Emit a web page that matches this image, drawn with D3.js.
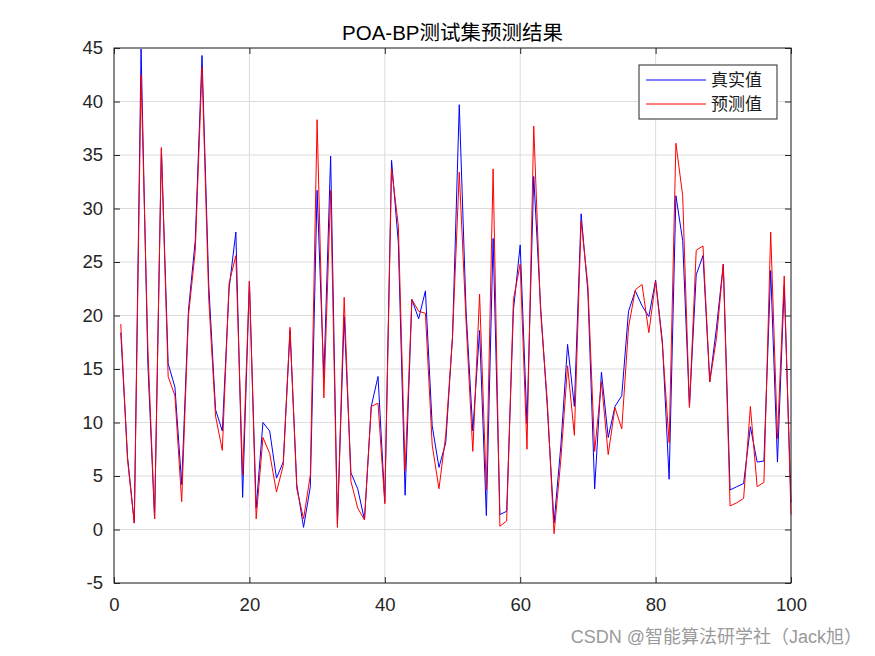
<!DOCTYPE html>
<html>
<head>
<meta charset="utf-8">
<script src="https://cdn.jsdelivr.net/npm/d3@7"></script>
<style>
  body { margin: 0; background: #fff; }
  svg { display: block; }
</style>
</head>
<body>
<div id="chart"></div>
<script>
// test set: true vs predicted, samples 1..100
const actual = [
  18.4, 6.8, 0.6, 44.9, 15.5, 1.0, 35.6, 15.5, 13.3, 4.2,
  20.5, 27.0, 44.3, 22.8, 11.2, 9.2, 22.5, 27.8, 3.0, 23.2,
  2.0, 10.0, 9.2, 4.8, 6.3, 18.6, 4.2, 0.2, 4.0, 31.7,
  14.2, 34.9, 0.5, 19.9, 5.3, 3.8, 0.9, 11.5, 14.3, 2.6,
  34.5, 26.8, 3.2, 21.5, 19.7, 22.3, 9.7, 5.8, 8.1, 18.0,
  39.7, 20.5, 9.2, 18.6, 1.3, 27.2, 1.4, 1.7, 20.5, 26.6,
  9.9, 33.0, 21.0, 11.5, 0.6, 7.8, 17.3, 11.5, 29.5, 22.2,
  3.8, 14.7, 8.6, 11.5, 12.5, 20.4, 22.3, 20.9, 19.9, 23.3,
  17.6, 4.7, 31.2, 27.0, 11.5, 23.8, 25.6, 13.8, 18.9, 24.8,
  3.7, 4.0, 4.3, 9.6, 6.3, 6.4, 24.2, 6.3, 22.8, 2.5
];
const predicted = [
  19.2, 6.5, 0.6, 42.5, 17.0, 1.0, 35.7, 14.3, 12.5, 2.6,
  20.0, 26.0, 43.2, 21.5, 10.6, 7.4, 23.0, 25.6, 5.1, 23.2,
  1.0, 8.6, 7.1, 3.5, 6.0, 18.9, 3.8, 1.0, 5.1, 38.3,
  12.3, 31.7, 0.2, 21.7, 4.5, 2.0, 0.9, 11.5, 11.8, 2.4,
  33.7, 28.4, 5.5, 21.5, 20.4, 20.2, 7.9, 3.8, 8.8, 18.0,
  33.4, 19.5, 7.3, 22.0, 3.7, 33.7, 0.3, 0.8, 21.5, 24.8,
  7.5, 37.7, 20.5, 12.0, -0.4, 6.5, 15.3, 8.8, 28.8, 22.8,
  7.3, 13.8, 7.0, 11.4, 9.4, 18.9, 22.4, 22.9, 18.4, 23.2,
  17.3, 8.1, 36.1, 31.2, 11.4, 26.1, 26.5, 13.8, 17.9, 24.8,
  2.2, 2.5, 2.9, 11.5, 4.0, 4.4, 27.8, 8.5, 23.7, 1.4
];
const xTicks = [0, 20, 40, 60, 80, 100];
const yTicks = [-5, 0, 5, 10, 15, 20, 25, 30, 35, 40, 45];
const seriesNames = ["真实值", "预测值"];
const seriesColors = ["#0000ff", "#ff0000"];

const W = 875, H = 656;
const margin = { top: 48, right: 84, bottom: 73, left: 114 };
const width = W - margin.left - margin.right;
const height = H - margin.top - margin.bottom;

const svg = d3.select("#chart").append("svg")
  .attr("width", W)
  .attr("height", H);

const g = svg.append("g")
  .attr("transform", "translate(" + margin.left + "," + margin.top + ")");

const x = d3.scaleLinear().domain([0, 100]).range([0, width]);
const y = d3.scaleLinear().domain([-5, 45]).range([height, 0]);

// grid
g.append("g")
  .selectAll("line.gx")
  .data(xTicks)
  .join("line")
  .attr("x1", d => x(d)).attr("x2", d => x(d))
  .attr("y1", 0).attr("y2", height)
  .attr("stroke", "#dcdcdc").attr("stroke-width", 1);
g.append("g")
  .selectAll("line.gy")
  .data(yTicks)
  .join("line")
  .attr("x1", 0).attr("x2", width)
  .attr("y1", d => y(d)).attr("y2", d => y(d))
  .attr("stroke", "#dcdcdc").attr("stroke-width", 1);

// lines
const idx = d3.range(1, actual.length + 1);
const line = d3.line()
  .x(d => x(d[0]))
  .y(d => y(d[1]));

[actual, predicted].forEach(function (vals, k) {
  g.append("path")
    .datum(idx.map((t, i) => [t, vals[i]]))
    .attr("fill", "none")
    .attr("stroke", seriesColors[k])
    .attr("stroke-width", 1)
    .attr("d", line);
});

// axes (ticks inside, box on)
const tickStyle = sel => {
  sel.select(".domain").remove();
  sel.selectAll(".tick line").attr("stroke", "#262626");
  sel.selectAll(".tick text")
    .attr("fill", "#262626")
    .style("font-family", "Liberation Sans, Arial, sans-serif")
    .style("font-size", "18.5px");
};
const fmt = d => String(d);

g.append("g")
  .attr("transform", "translate(0," + height + ")")
  .call(d3.axisBottom(x).tickValues(xTicks).tickSizeInner(-6).tickSizeOuter(0).tickPadding(15).tickFormat(fmt))
  .call(tickStyle);
g.append("g")
  .call(d3.axisTop(x).tickValues(xTicks).tickSizeInner(-6).tickSizeOuter(0).tickFormat(""))
  .call(tickStyle);
g.append("g")
  .call(d3.axisLeft(y).tickValues(yTicks).tickSizeInner(-6).tickSizeOuter(0).tickPadding(11).tickFormat(fmt))
  .call(tickStyle);
g.append("g")
  .attr("transform", "translate(" + width + ",0)")
  .call(d3.axisRight(y).tickValues(yTicks).tickSizeInner(-6).tickSizeOuter(0).tickFormat(""))
  .call(tickStyle);

g.append("rect")
  .attr("width", width).attr("height", height)
  .attr("fill", "none")
  .attr("stroke", "#262626")
  .attr("stroke-width", 1);

// title
svg.append("text")
  .attr("x", margin.left + width / 2)
  .attr("y", 40)
  .attr("text-anchor", "middle")
  .style("font-family", "Liberation Sans, 'Noto Sans CJK SC', sans-serif")
  .style("font-size", "20.5px")
  .attr("fill", "#000")
  .text("POA-BP测试集预测结果");

// legend
const lg = svg.append("g").attr("transform", "translate(639,65)");
lg.append("rect")
  .attr("width", 138).attr("height", 54)
  .attr("fill", "#fff").attr("stroke", "#262626").attr("stroke-width", 1);
seriesNames.forEach(function (name, k) {
  const yy = 15 + k * 24;
  lg.append("line")
    .attr("x1", 7).attr("x2", 67)
    .attr("y1", yy).attr("y2", yy)
    .attr("stroke", seriesColors[k]).attr("stroke-width", 1);
  lg.append("text")
    .attr("x", 72).attr("y", yy + 6)
    .style("font-family", "'Noto Sans CJK SC', sans-serif")
    .style("font-size", "17px")
    .attr("fill", "#1a1a1a")
    .text(name);
});

// watermark
svg.append("text")
  .attr("x", 862).attr("y", 643)
  .attr("text-anchor", "end")
  .style("font-family", "Liberation Sans, 'Noto Sans CJK SC', sans-serif")
  .style("font-size", "18px")
  .attr("fill", "#9a9a9a")
  .text("CSDN @智能算法研学社（Jack旭）");
</script>
</body>
</html>
